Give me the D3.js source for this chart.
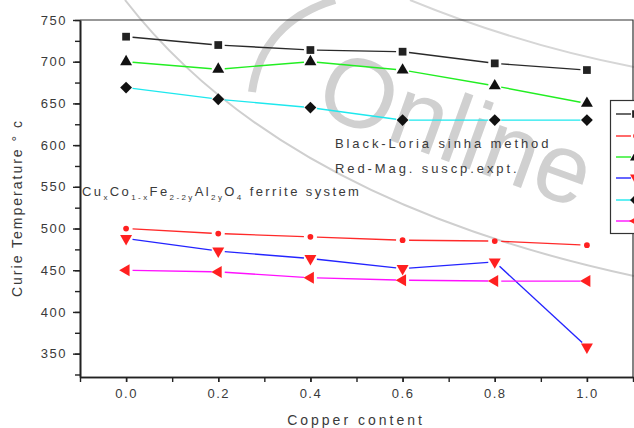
<!DOCTYPE html>
<html>
<head>
<meta charset="utf-8">
<script src="https://cdn.jsdelivr.net/npm/d3@7"></script>
<style>
  body { margin: 0; background: #fff; }
  text { font-family: "Liberation Sans", Arial, sans-serif; fill: #3a3a3a; }
</style>
</head>
<body>
<svg id="chart" width="634" height="428"></svg>
<script>
// copper content x
const copper = [0.0, 0.2, 0.4, 0.6, 0.8, 1.0];

// curie temperatures
const loriaA = [730, 720, 714, 712, 698, 690];
const loriaB = [700, 691, 700, 690, 671, 650];
const loriaC = [669, 655, 645, 630, 630, 630];
const suscA = [500, 494, 490, 486, 485, 480];
const suscB = [488, 473, 464, 452, 460, 358];
const suscC = [450, 448, 441, 438, 437, 437];

const yTicks = [350, 400, 450, 500, 550, 600, 650, 700, 750];
const xTicks = [0.0, 0.2, 0.4, 0.6, 0.8, 1.0];

const series = [
  { values: loriaA, line: '#2a2a2a', mark: '#222', shape: 'square' },
  { values: suscA, line: '#ff2a2a', mark: '#ff2020', shape: 'circle' },
  { values: loriaB, line: '#22ee22', mark: '#111', shape: 'up' },
  { values: suscB, line: '#2424ff', mark: '#ff2020', shape: 'down' },
  { values: loriaC, line: '#1ee8ee', mark: '#111', shape: 'diamond' },
  { values: suscC, line: '#ff10ff', mark: '#ff2020', shape: 'left' },
];

const svg = d3.select('#chart');
const mLeft = 80, mTop = 20, mRight = 633, mBottom = 377;

const x = d3.scaleLinear().domain([-0.1, 1.1]).range([mLeft, mRight]);
const y = d3.scaleLinear().domain([322, 750]).range([mBottom, mTop]);

// watermark
const wm = svg.append('g').attr('class', 'watermark');
wm.append('path')
  .attr('d', 'M125,0 Q280,200 634,276')
  .attr('fill', 'none').attr('stroke', '#cfcfcf').attr('stroke-width', 2);
wm.append('path')
  .attr('d', 'M410,0 Q520,45 634,67')
  .attr('fill', 'none').attr('stroke', '#d6d6d6').attr('stroke-width', 2);
wm.append('path')
  .attr('d', 'M252,92 Q262,22 335,0')
  .attr('fill', 'none').attr('stroke', '#d2d2d2').attr('stroke-width', 8);
wm.append('text')
  .attr('x', 312).attr('y', 112)
  .attr('transform', 'rotate(20,312,112)')
  .style('font-size', '98px')
  .style('fill', '#d0d0d0')
  .text('Online');

// frame top + right
svg.append('path')
  .attr('d', `M${mLeft},${mTop}H${mRight}V${mBottom}`)
  .attr('fill', 'none').attr('stroke', '#333').attr('stroke-width', 1.2);

function styleAxis(g) {
  g.select('.domain').attr('stroke', '#222').attr('stroke-width', 1.6);
  g.selectAll('.tick line').attr('stroke', '#222').attr('stroke-width', 1.4);
  g.selectAll('.tick text')
    .style('font-size', '13px').style('letter-spacing', '1.5px')
    .style('fill', '#3a3a3a');
}

// minor ticks first, then labelled ticks
svg.append('g')
  .attr('transform', `translate(${mLeft},0)`)
  .call(d3.axisLeft(y).tickValues(d3.range(325, 751, 25)).tickSize(5).tickFormat('').tickSizeOuter(0))
  .call(styleAxis);
svg.append('g')
  .attr('transform', `translate(${mLeft},0)`)
  .call(d3.axisLeft(y).tickValues(yTicks).tickSize(7).tickPadding(6).tickSizeOuter(0).tickFormat(d3.format('d')))
  .call(styleAxis);

svg.append('g')
  .attr('transform', `translate(0,${mBottom})`)
  .call(d3.axisBottom(x).tickValues(d3.range(-0.1, 1.11, 0.1)).tickSize(5).tickFormat('').tickSizeOuter(0))
  .call(styleAxis);
svg.append('g')
  .attr('transform', `translate(0,${mBottom})`)
  .call(d3.axisBottom(x).tickValues(xTicks).tickSize(5).tickPadding(7).tickSizeOuter(0).tickFormat(d3.format('.1f')))
  .call(styleAxis);

// axis titles
svg.append('text')
  .attr('x', 356).attr('y', 425)
  .attr('text-anchor', 'middle')
  .style('font-size', '14px').style('letter-spacing', '3px')
  .text('Copper content');
svg.append('text')
  .attr('transform', 'translate(22,208) rotate(-90)')
  .attr('text-anchor', 'middle')
  .style('font-size', '14px').style('letter-spacing', '2px')
  .text('Curie Temperature ° c');

// symbols
function marker(sel, shape, colour) {
  let sym, rot = 0, size = 62;
  if (shape === 'square') { sym = d3.symbolSquare; size = 60; }
  else if (shape === 'circle') { sym = d3.symbolCircle; size = 26; }
  else if (shape === 'diamond') { sym = d3.symbolSquare; size = 70; rot = 45; }
  else { sym = d3.symbolTriangle; rot = shape === 'down' ? 180 : shape === 'left' ? -90 : 0; }
  sel.append('path')
    .attr('d', d3.symbol().type(sym).size(size)())
    .attr('transform', d => `translate(${d[0]},${d[1]}) rotate(${rot})`)
    .attr('fill', colour);
}

const trim = 6.5;
series.forEach(s => {
  const pts = copper.map((c, i) => [x(c), y(s.values[i])]);
  const segs = d3.pairs(pts).map(([a, b]) => {
    const dx = b[0] - a[0], dy = b[1] - a[1];
    const len = Math.hypot(dx, dy);
    const ux = dx / len, uy = dy / len;
    return [[a[0] + ux * trim, a[1] + uy * trim], [b[0] - ux * trim, b[1] - uy * trim]];
  });
  const g = svg.append('g');
  g.selectAll('path.seg').data(segs).join('path')
    .attr('class', 'seg')
    .attr('d', d3.line())
    .attr('fill', 'none')
    .attr('stroke', s.line)
    .attr('stroke-width', 1.4);
  const m = g.selectAll('g.pt').data(pts).join('g').attr('class', 'pt');
  marker(m, s.shape, s.mark);
});

// annotations
const note = svg.append('g').style('font-size', '13px').style('letter-spacing', '2.9px');
note.append('text').attr('x', 335).attr('y', 148).text('Black-Loria sinha method');
note.append('text').attr('x', 335).attr('y', 173).text('Red-Mag. suscp.expt.');

const formula = svg.append('text')
  .attr('x', 82).attr('y', 196)
  .style('font-size', '13px').style('letter-spacing', '2.4px');
let wasSub = false;
[['Cu', false], ['x', true], ['Co', false], ['1-x', true], ['Fe', false], ['2-2y', true],
 ['Al', false], ['2y', true], ['O', false], ['4', true], ['\u00a0ferrite system', false]]
  .forEach(([t, sub]) => {
    formula.append('tspan')
      .attr('dy', sub === wasSub ? 0 : (sub ? 4 : -4))
      .style('font-size', sub ? '8px' : '13px')
      .text(t);
    wasSub = sub;
  });

// legend (cut off by the frame edge)
const legendY = [114, 136, 157, 178, 200, 221];
svg.append('rect')
  .attr('x', 610.5).attr('y', 100.5).attr('width', 60).attr('height', 133)
  .attr('fill', '#fff').attr('stroke', '#333').attr('stroke-width', 1.2);
const lg = svg.selectAll('g.leg').data(series).join('g').attr('class', 'leg');
lg.append('line')
  .attr('x1', 616).attr('x2', 631)
  .attr('y1', (d, i) => legendY[i]).attr('y2', (d, i) => legendY[i])
  .attr('stroke', d => d.line).attr('stroke-width', 1.4);
lg.each(function (d, i) {
  const g = d3.select(this).selectAll('g.lm').data([[636, legendY[i]]]).join('g').attr('class', 'lm');
  marker(g, d.shape, d.mark);
});
</script>
</body>
</html>
